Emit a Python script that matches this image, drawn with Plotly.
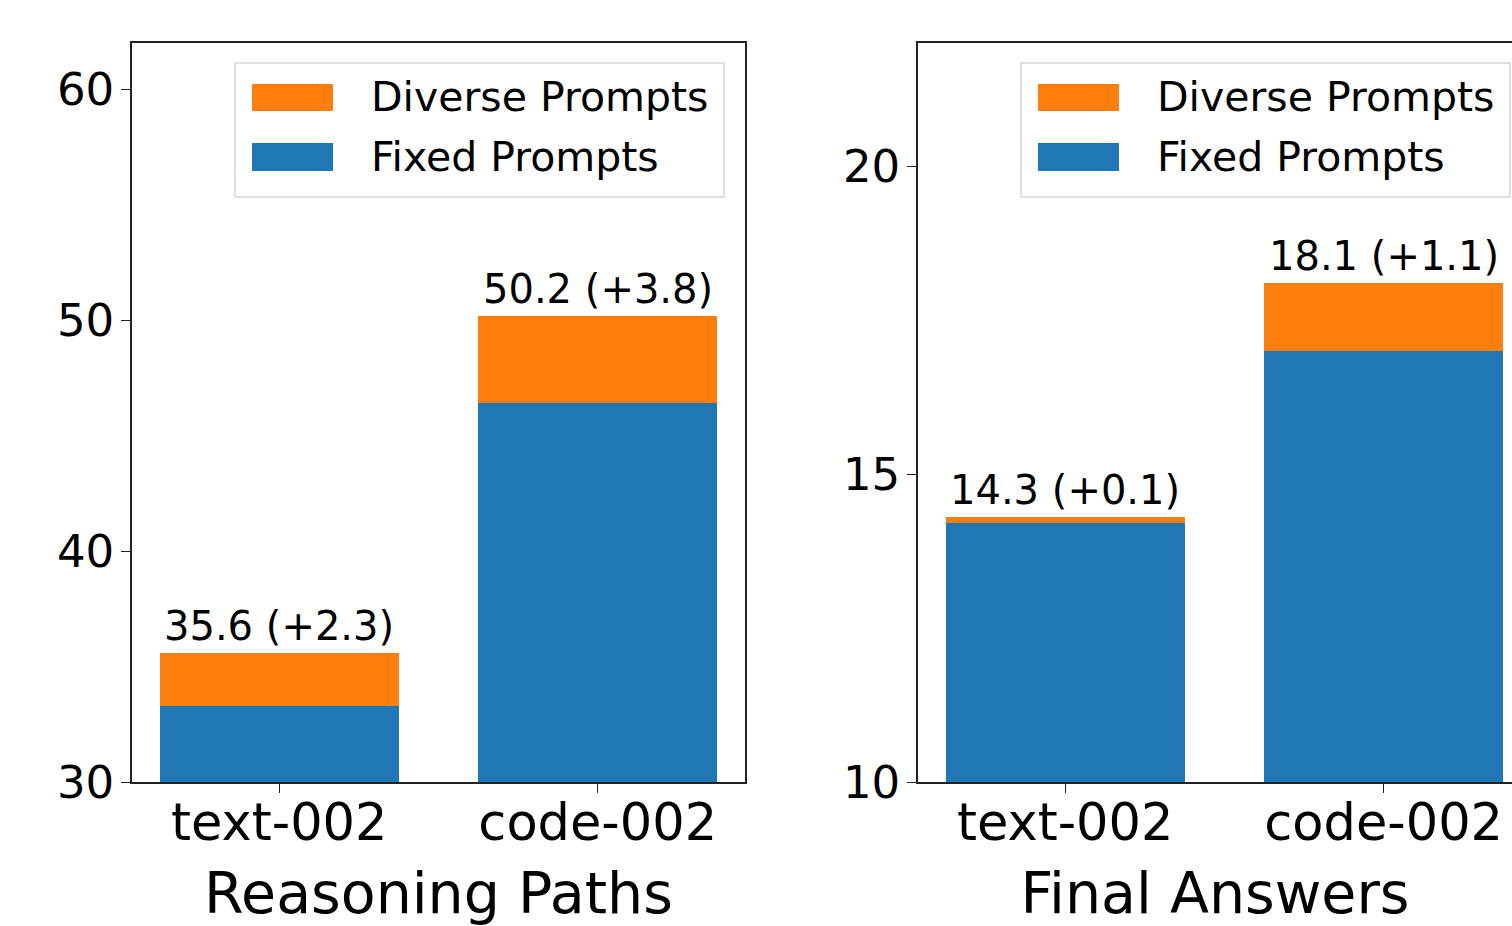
import plotly.graph_objects as go

models = ["text-002", "code-002"]
reasoning_fixed = [33.3, 46.4]
reasoning_diverse = [35.6, 50.2]
answers_fixed = [14.2, 17.0]
answers_diverse = [14.3, 18.1]
panel_titles = ["Reasoning Paths", "Final Answers"]
yticks_left = [30, 40, 50, 60]
yticks_right = [10, 15, 20]

BLUE = "#1f77b4"
ORANGE = "#ff7f0e"
FONT = "DejaVu Sans"
W, H = 1512, 926

fig = go.Figure()

panels = [
    (reasoning_fixed, reasoning_diverse, "x", "y"),
    (answers_fixed, answers_diverse, "x2", "y2"),
]
for fixed, diverse, xa, ya in panels:
    fig.add_trace(go.Bar(x=models, y=fixed, marker=dict(color=BLUE, line=dict(width=0)),
                         width=0.75, xaxis=xa, yaxis=ya, showlegend=False, name="Fixed Prompts"))
    fig.add_trace(go.Bar(x=models, y=[d - f for d, f in zip(diverse, fixed)],
                         marker=dict(color=ORANGE, line=dict(width=0)),
                         width=0.75, xaxis=xa, yaxis=ya, showlegend=False, name="Diverse Prompts"))
    for m, f, d in zip(models, fixed, diverse):
        fig.add_annotation(x=m, y=d, xref=xa, yref=ya, text=f"{d:.1f} (+{d - f:.1f})",
                           showarrow=False, yanchor="bottom", yshift=2,
                           font=dict(family=FONT, size=40, color="black"))

line_common = dict(showline=True, linecolor="#222", linewidth=1.6, ticks="outside",
                   ticklen=9, tickwidth=1.4, tickcolor="#222", showgrid=False, zeroline=False,
                   automargin=False)
xtickfont = dict(family=FONT, size=51, color="black")
ytickfont = dict(family=FONT, size=45, color="black")
titlefont = dict(family=FONT, size=57, color="black")

y0p = (H - 782) / H
y1p = (H - 43) / H
fig.update_layout(
    width=W, height=H, margin=dict(l=0, r=0, t=0, b=0, autoexpand=False),
    paper_bgcolor="white", plot_bgcolor="white", barmode="stack", bargap=0,
    xaxis=dict(domain=[132 / W, 745 / W], range=[-0.4625, 1.4625], mirror=True,
               tickfont=xtickfont, ticklabelstandoff=-14,
               title=dict(text=panel_titles[0], font=titlefont, standoff=24),
               **line_common),
    yaxis=dict(domain=[y0p, y1p], range=[30, 62], tickvals=yticks_left, mirror=True,
               tickfont=ytickfont, ticklabelstandoff=-2, **line_common),
    xaxis2=dict(domain=[918 / W, 1.0], range=[-0.4625, -0.4625 + 594 / 318.4], mirror=True,
                anchor="y2", tickfont=xtickfont, ticklabelstandoff=-14,
                title=dict(text=panel_titles[1], font=titlefont, standoff=24),
                **line_common),
    yaxis2=dict(domain=[y0p, y1p], range=[10, 22], tickvals=yticks_right, anchor="x2",
                tickfont=ytickfont, ticklabelstandoff=-2, **line_common),
)

# manual legends (matplotlib-style wide handles)
legend_entries = [("Diverse Prompts", ORANGE, 84, 111, 97), ("Fixed Prompts", BLUE, 143, 171, 157)]
for ax_left in (132, 918):
    def px(x):
        return (ax_left + x) / W
    def py(y):
        return 1 - y / H
    fig.add_shape(type="rect", xref="paper", yref="paper",
                  x0=px(103), x1=px(592), y0=py(63), y1=py(197),
                  line=dict(color="#d6d6d6", width=1.5), fillcolor="rgba(255,255,255,0.85)", layer="above")
    for label, col, ya0, ya1, yt in legend_entries:
        fig.add_shape(type="rect", xref="paper", yref="paper",
                      x0=px(120), x1=px(201), y0=py(ya1), y1=py(ya0),
                      line=dict(width=0), fillcolor=col, layer="above")
        fig.add_annotation(x=px(237), y=py(yt), xref="paper", yref="paper", text=label,
                           showarrow=False, xanchor="left", yanchor="middle",
                           font=dict(family=FONT, size=41, color="black"))

fig.write_html("out.html")
